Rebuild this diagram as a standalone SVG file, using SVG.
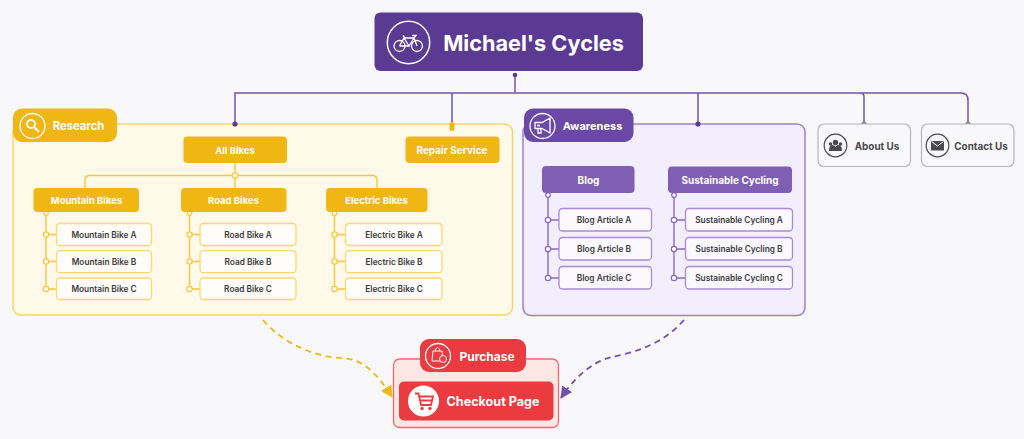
<svg xmlns="http://www.w3.org/2000/svg" width="1024" height="439" viewBox="0 0 1024 439">
<style>
text{font-family:"Inter","Lato","Liberation Sans",sans-serif;text-anchor:middle;dominant-baseline:central}
.w{fill:#fff;font-weight:700}
.d{fill:#3c3a40;font-weight:600;font-size:8.300px}
.g{fill:#4a494d;font-weight:700;font-size:9.900px}
.hd{font-size:9.500px}
.ye{fill:#f0b614}.yi{fill:#fffdf9;stroke:#fbd76e;stroke-width:1.300}
.pu{fill:#7f5fb3}.pi{fill:#fbf9fe;stroke:#a88ad6;stroke-width:1.300}
.yl{fill:none;stroke:#f8c63e;stroke-width:1.400}
.pl{fill:none;stroke:#8a68c0;stroke-width:1.400}
.ic{fill:none;stroke:#fff;stroke-width:1.300}
</style>
<defs>
<marker id="ay" markerWidth="13" markerHeight="13" refX="11" refY="6.500" orient="auto" markerUnits="userSpaceOnUse"><path d="M0 0.500L12 6.500L0 12.500Z" fill="#f0b614"/></marker>
<marker id="ap" markerWidth="13" markerHeight="13" refX="11" refY="6.500" orient="auto" markerUnits="userSpaceOnUse"><path d="M0 0.500L12 6.500L0 12.500Z" fill="#7450ad"/></marker>
</defs>
<rect width="1024" height="439" fill="#f8f8fb"/>

<g id="research-panel"><rect x="13" y="124" width="499.500" height="191" rx="8" fill="#fff9ea" stroke="#fbd468" stroke-width="1.500"/></g>
<g id="awareness-panel"><rect x="523" y="124" width="282" height="191.500" rx="8" fill="#f3eefb" stroke="#9f80d0" stroke-width="1.500"/></g>
<g id="purchase-panel"><rect x="393.500" y="359" width="165" height="68.500" rx="6" fill="#fde6e4" stroke="#f0696b" stroke-width="1.300"/></g>

<g id="connectors">
<path d="M515 75V93M235 124V93H860Q864 93 864 97V124M452 93V124M698 93V124M860 93H961Q968 93 968 100V124" fill="none" stroke="#7450ad" stroke-width="1.500"/>
<path d="M235 163V188M85 188V180Q85 175.500 90 175.500H372Q377 175.500 377 180V188" class="yl"/>
<path d="M46 212V289M46 234.500H57M46 261.500H57M46 289H57M189.500 212V289M189.500 234.500H200M189.500 261.500H200M189.500 289H200M334.500 212V289M334.500 234.500H345M334.500 261.500H345M334.500 289H345" class="yl"/>
<path d="M548 194V278M548 220H559M548 249H559M548 278H559M674 194V278M674 220H685.500M674 249H685.500M674 278H685.500" class="pl"/>
<path d="M263 320C285 345 315 357 345 358.500C365 359.500 380 378 392 397" fill="none" stroke="#f0b614" stroke-width="1.800" stroke-dasharray="6 4.500" marker-end="url(#ay)"/>
<path d="M684 320C662 345 635 352 612 357C590 362 573 380 561 398" fill="none" stroke="#7450ad" stroke-width="1.800" stroke-dasharray="6 4.500" marker-end="url(#ap)"/>
<g fill="#5b3a94"><circle cx="515" cy="75" r="2.300"/><circle cx="235" cy="124" r="2.600"/><circle cx="698" cy="124" r="2.600"/></g>
<rect x="449.500" y="122" width="5" height="9" rx="2.500" fill="#f0b614"/>
<g fill="#8e8e92"><circle cx="864" cy="124" r="2.600"/><circle cx="968" cy="124" r="2.600"/></g>
<g fill="#fffdf6" stroke="#f8c63e" stroke-width="1.200"><circle cx="235" cy="175.500" r="2.700"/><circle cx="46" cy="213" r="2.300"/><circle cx="46" cy="234.500" r="2.700"/><circle cx="46" cy="261.500" r="2.700"/><circle cx="46" cy="289" r="2.700"/><circle cx="189.500" cy="213" r="2.300"/><circle cx="189.500" cy="234.500" r="2.700"/><circle cx="189.500" cy="261.500" r="2.700"/><circle cx="189.500" cy="289" r="2.700"/><circle cx="334.500" cy="213" r="2.300"/><circle cx="334.500" cy="234.500" r="2.700"/><circle cx="334.500" cy="261.500" r="2.700"/><circle cx="334.500" cy="289" r="2.700"/></g>
<g fill="#fdfcff" stroke="#8a68c0" stroke-width="1.200"><circle cx="548" cy="195" r="2.300"/><circle cx="548" cy="220" r="2.700"/><circle cx="548" cy="249" r="2.700"/><circle cx="548" cy="278" r="2.700"/><circle cx="674" cy="195" r="2.300"/><circle cx="674" cy="220" r="2.700"/><circle cx="674" cy="249" r="2.700"/><circle cx="674" cy="278" r="2.700"/></g>
</g>

<g id="title"><rect x="374.500" y="12.500" width="268.500" height="58.500" rx="6" fill="#5b3a94"/>
<circle cx="408.500" cy="42.500" r="21.200" class="ic" style="stroke-width:1.500"/>
<g class="ic"><circle cx="399.500" cy="46" r="5.500"/><circle cx="417" cy="46" r="5.500"/><path d="M399.500 46L404 38H414L417 46M404 38L409 46H399.500M409 46L414 38M403 35.500L405 38M412 35.500H416L414 38"/></g>
<text x="533.500" y="43" class="w" font-size="21.700">Michael's Cycles</text></g>

<g id="research-tab"><rect x="13" y="108.500" width="104" height="33.500" rx="9" class="ye"/>
<circle cx="32.500" cy="126" r="12.500" class="ic"/><circle cx="31" cy="124" r="4" class="ic" style="stroke-width:1.800"/><path d="M34 127L39 132" class="ic" style="stroke-width:2"/>
<text x="78.500" y="126" class="w" font-size="11.300">Research</text></g>
<g id="all-bikes"><rect x="183.500" y="136.500" width="103.500" height="26.500" rx="4" class="ye"/><text x="235" y="150" class="w hd">All Bikes</text></g>
<g id="repair-service"><rect x="405.500" y="136.500" width="94" height="26.500" rx="4" class="ye"/><text x="452" y="150" class="w" font-size="10">Repair Service</text></g>
<g id="mountain-bikes"><rect x="33.500" y="188" width="105.500" height="24" rx="4" class="ye"/><text x="86.500" y="200.500" class="w hd">Mountain Bikes</text></g>
<g id="road-bikes"><rect x="181" y="188" width="105.500" height="24" rx="4" class="ye"/><text x="233.500" y="200.500" class="w hd">Road Bikes</text></g>
<g id="electric-bikes"><rect x="326" y="188" width="101.500" height="24" rx="4" class="ye"/><text x="376.500" y="200.500" class="w hd">Electric Bikes</text></g>

<g id="mountain-a"><rect x="56.500" y="223.500" width="95" height="22" rx="3.500" class="yi"/><text x="104" y="235" class="d">Mountain Bike A</text></g>
<g id="mountain-b"><rect x="56.500" y="250.700" width="95" height="22" rx="3.500" class="yi"/><text x="104" y="262" class="d">Mountain Bike B</text></g>
<g id="mountain-c"><rect x="56.500" y="278" width="95" height="21.500" rx="3.500" class="yi"/><text x="104" y="289" class="d">Mountain Bike C</text></g>
<g id="road-a"><rect x="200" y="223.500" width="96" height="22" rx="3.500" class="yi"/><text x="248" y="235" class="d">Road Bike A</text></g>
<g id="road-b"><rect x="200" y="250.700" width="96" height="22" rx="3.500" class="yi"/><text x="248" y="262" class="d">Road Bike B</text></g>
<g id="road-c"><rect x="200" y="278" width="96" height="21.500" rx="3.500" class="yi"/><text x="248" y="289" class="d">Road Bike C</text></g>
<g id="electric-a"><rect x="345.500" y="223.500" width="96.500" height="22" rx="3.500" class="yi"/><text x="394" y="235" class="d">Electric Bike A</text></g>
<g id="electric-b"><rect x="345.500" y="250.700" width="96.500" height="22" rx="3.500" class="yi"/><text x="394" y="262" class="d">Electric Bike B</text></g>
<g id="electric-c"><rect x="345.500" y="278" width="96.500" height="21.500" rx="3.500" class="yi"/><text x="394" y="289" class="d">Electric Bike C</text></g>

<g id="awareness-tab"><rect x="524" y="108.500" width="109.500" height="33.500" rx="9" fill="#6b48a6"/>
<circle cx="542.500" cy="126" r="12.500" class="ic"/><path d="M535 122.500H542L550 118V133L542 128.500H535ZM538 128.500V133H541V128.500M537 125.500H540" class="ic"/>
<text x="592.500" y="126" class="w" font-size="11">Awareness</text></g>
<g id="blog"><rect x="542" y="166" width="92.500" height="27" rx="4" class="pu"/><text x="588.500" y="180" class="w" font-size="10">Blog</text></g>
<g id="sustainable-cycling"><rect x="668" y="166.500" width="124" height="26.500" rx="4" class="pu"/><text x="730" y="180" class="w" font-size="10">Sustainable Cycling</text></g>
<g id="blog-a"><rect x="559" y="208.500" width="92.500" height="22.500" rx="3.500" class="pi"/><text x="604" y="220" class="d">Blog Article A</text></g>
<g id="blog-b"><rect x="559" y="237.500" width="92.500" height="22.500" rx="3.500" class="pi"/><text x="604" y="249" class="d">Blog Article B</text></g>
<g id="blog-c"><rect x="559" y="266.500" width="92.500" height="22.500" rx="3.500" class="pi"/><text x="604" y="278" class="d">Blog Article C</text></g>
<g id="sustainable-a"><rect x="685.500" y="208.500" width="107" height="22.500" rx="3.500" class="pi"/><text x="739" y="220" class="d">Sustainable Cycling A</text></g>
<g id="sustainable-b"><rect x="685.500" y="237.500" width="107" height="22.500" rx="3.500" class="pi"/><text x="739" y="249" class="d">Sustainable Cycling B</text></g>
<g id="sustainable-c"><rect x="685.500" y="266.500" width="107" height="22.500" rx="3.500" class="pi"/><text x="739" y="278" class="d">Sustainable Cycling C</text></g>

<g id="about-us"><rect x="818" y="124" width="92.500" height="42.500" rx="6" fill="#f8f8fa" stroke="#b5b5b9" stroke-width="1.200"/>
<circle cx="835.500" cy="145.500" r="11.300" fill="none" stroke="#4a494d" stroke-width="1.200"/>
<path d="M829 151C829 146 831 145 832.500 145C834 145 835 146 835.500 147C836 146 837 145 838.500 145C840 145 842 146 842 151Z" fill="#4a494d"/><g fill="#4a494d"><circle cx="835.500" cy="142.500" r="2.700"/><circle cx="830.500" cy="144" r="1.800"/><circle cx="840.500" cy="144" r="1.800"/></g>
<text x="877" y="145.500" class="g">About Us</text></g>
<g id="contact-us"><rect x="921.500" y="124" width="92.500" height="42.500" rx="6" fill="#f8f8fa" stroke="#b5b5b9" stroke-width="1.200"/>
<circle cx="937.500" cy="145.500" r="11.300" fill="none" stroke="#4a494d" stroke-width="1.200"/>
<rect x="931" y="141" width="13" height="9.500" fill="#4a494d"/><path d="M931.500 141.500L937.500 146L943.500 141.500" fill="none" stroke="#fff" stroke-width="1"/>
<text x="981" y="145.500" class="g">Contact Us</text></g>

<g id="purchase-tab"><rect x="420" y="339" width="106" height="33" rx="9" fill="#e93b40"/>
<circle cx="438" cy="356" r="12.500" class="ic"/><path d="M433 351H442L443 361H432ZM435.500 351V349Q437.500 346 439.500 349V351" class="ic" style="stroke-width:1"/><circle cx="443" cy="359" r="3.500" fill="#e93b40" stroke="#fff" stroke-width="1"/>
<text x="487" y="356.500" class="w" font-size="12">Purchase</text></g>
<g id="checkout-page"><rect x="399" y="381.500" width="154.500" height="39" rx="5" fill="#e93b40"/>
<circle cx="423.500" cy="401" r="15.500" fill="#fff"/><path d="M415 393.500H418.500L421 405H431L433 396.500H419.500M421 400.500H432" fill="none" stroke="#e93b40" stroke-width="1.800"/><circle cx="422" cy="408.500" r="1.700" fill="#e93b40"/><circle cx="430" cy="408.500" r="1.700" fill="#e93b40"/>
<text x="493" y="401.500" class="w" font-size="12.600">Checkout Page</text></g>
</svg>
